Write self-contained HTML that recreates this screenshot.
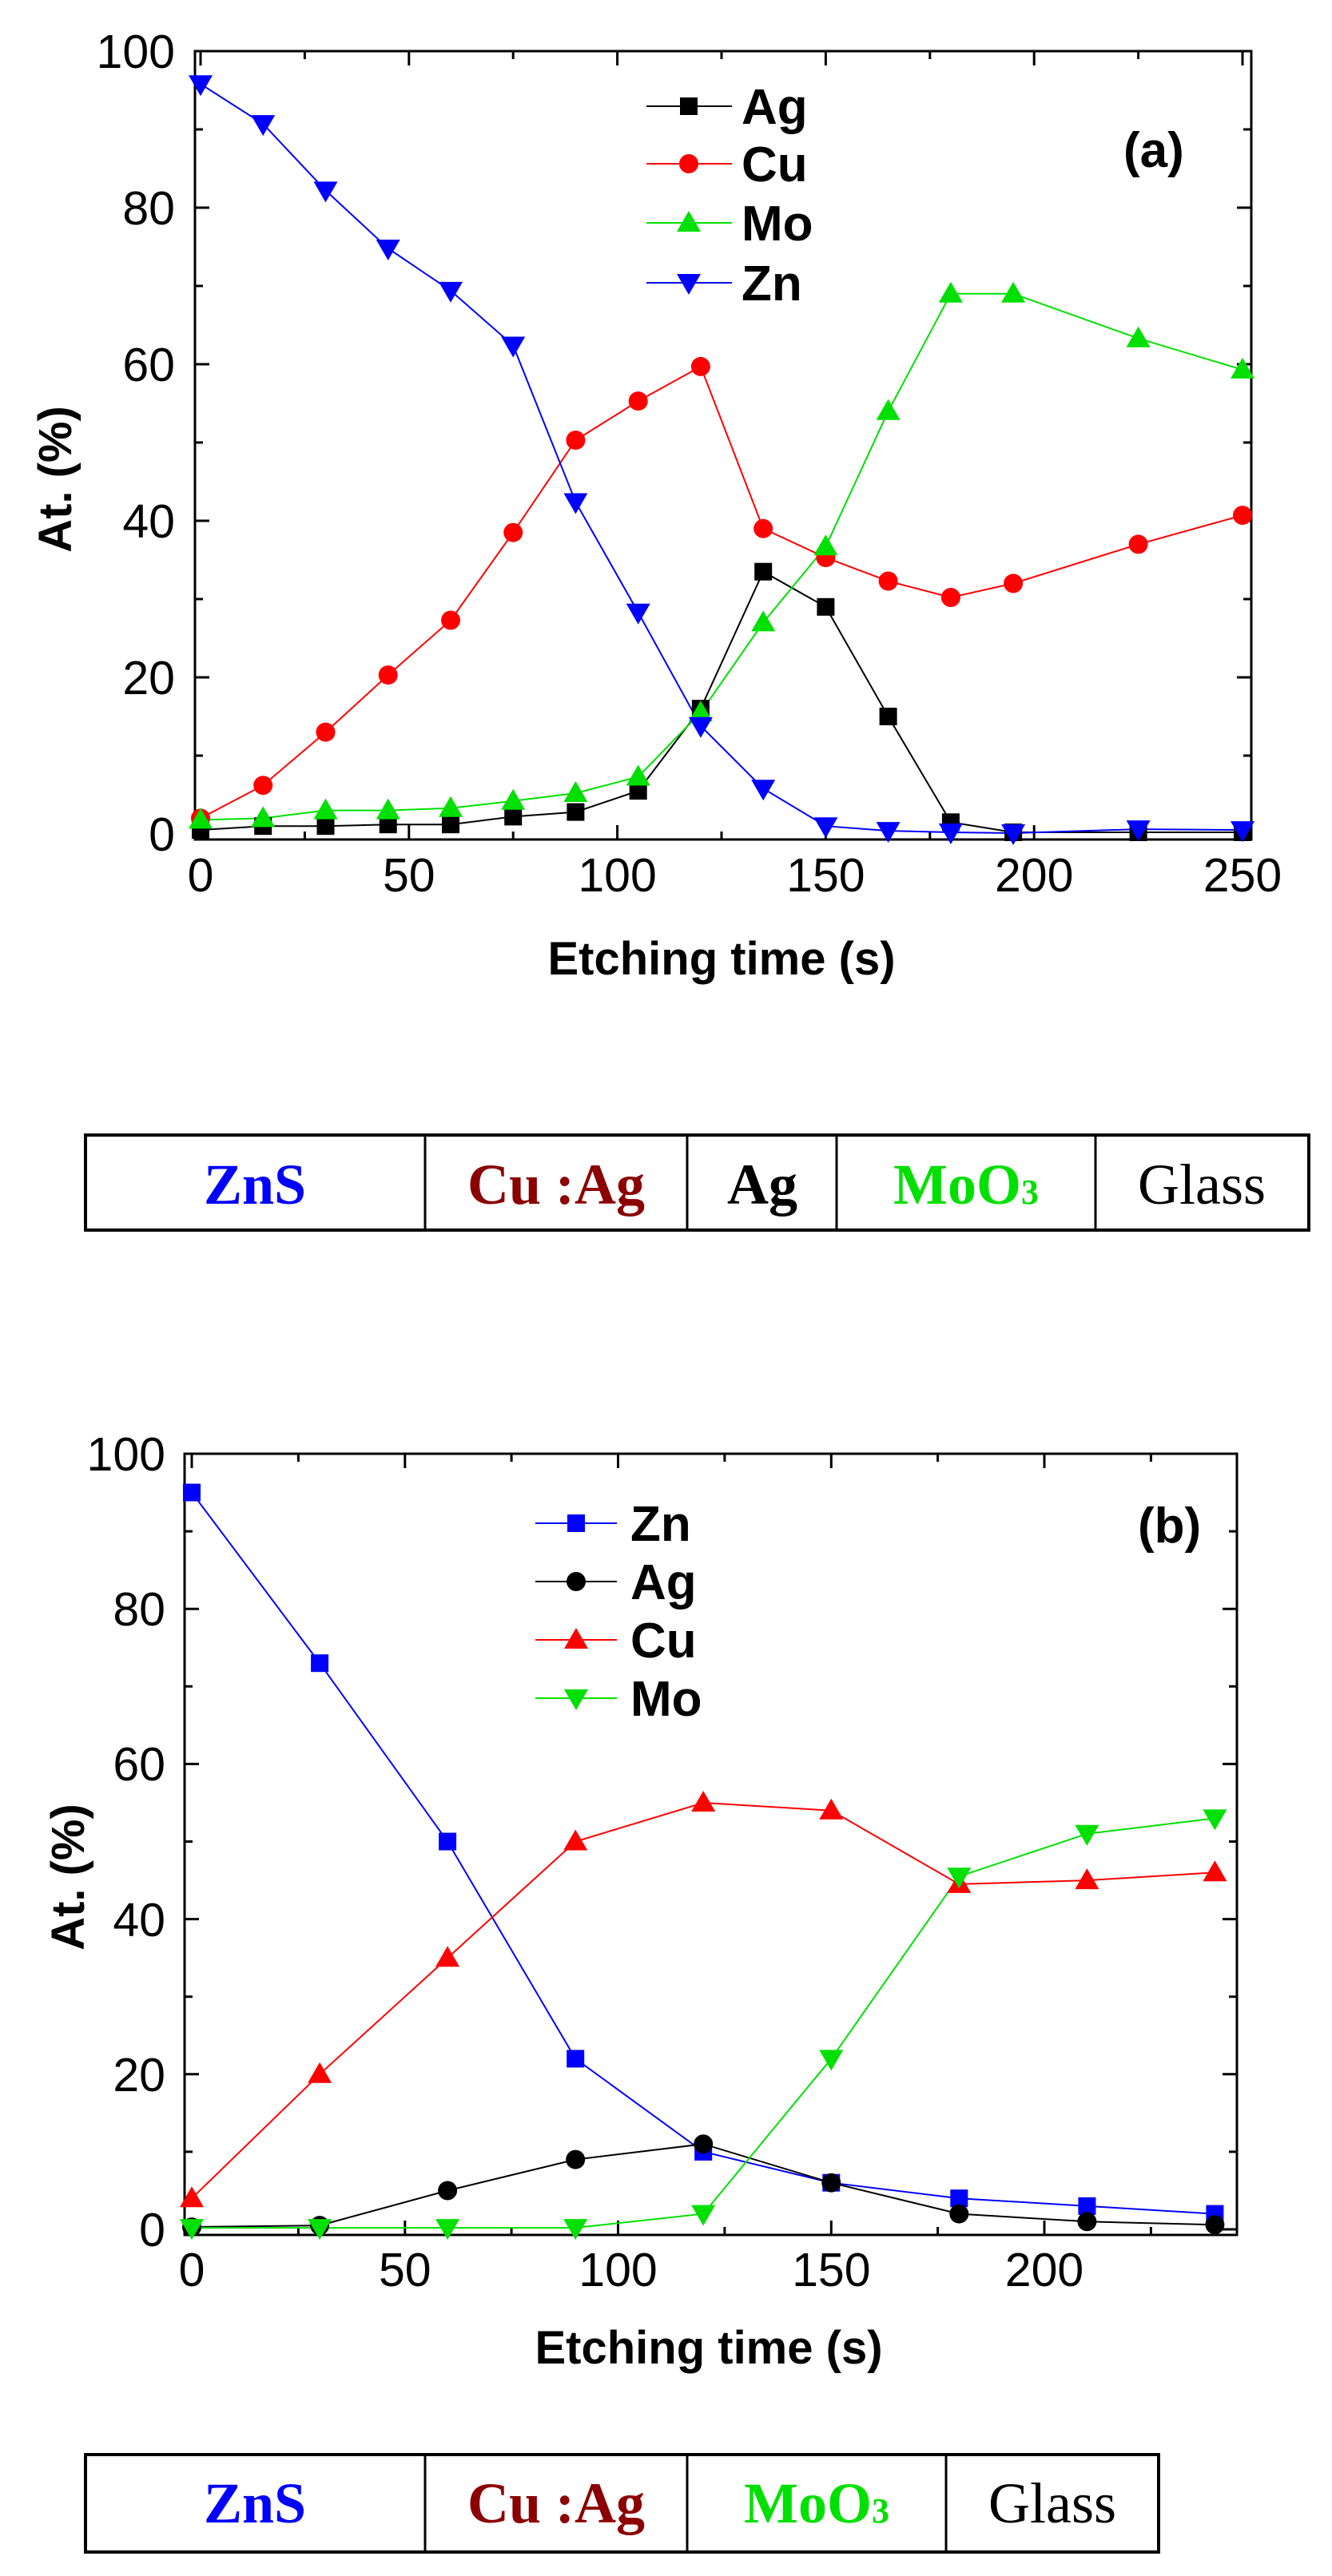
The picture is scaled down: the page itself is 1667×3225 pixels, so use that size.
<!DOCTYPE html>
<html><head><meta charset="utf-8"><style>
html,body{margin:0;padding:0;background:#fff}
svg{display:block}
.t{font-family:"Liberation Sans",Arial,sans-serif;font-size:59px;fill:#000}
.b{font-family:"Liberation Sans",Arial,sans-serif;font-weight:bold;font-size:58px;fill:#000}
.l{font-family:"Liberation Sans",Arial,sans-serif;font-weight:bold;font-size:62px;fill:#000}
.s{font-family:"Liberation Serif","Times New Roman",serif;font-size:72px}
</style></head><body>
<svg width="1667" height="3225" viewBox="0 0 1667 3225" xmlns="http://www.w3.org/2000/svg">
<defs>
<rect id="sq" x="-11" y="-11" width="22" height="22"/>
<circle id="ci" r="12"/>
<polygon id="up" points="0,-15 15,11 -15,11"/>
<polygon id="dn" points="0,15 15,-11 -15,-11"/>
</defs>

<!-- ============ CHART A ============ -->
<rect x="244" y="64" width="1322" height="987" fill="none" stroke="#000" stroke-width="3"/>
<g stroke="#000" stroke-width="3">
<path d="M251 1051v-18M511.8 1051v-18M772.6 1051v-18M1033.4 1051v-18M1294.2 1051v-18M1555 1051v-18
M251 64v18M511.8 64v18M772.6 64v18M1033.4 64v18M1294.2 64v18M1555 64v18
M381.4 1051v-10M642.2 1051v-10M903 1051v-10M1163.8 1051v-10M1424.6 1051v-10
M381.4 64v10M642.2 64v10M903 64v10M1163.8 64v10M1424.6 64v10
M244 1044h18M244 848h18M244 652h18M244 456h18M244 260h18
M1566 1044h-18M1566 848h-18M1566 652h-18M1566 456h-18M1566 260h-18
M244 946h10M244 750h10M244 554h10M244 358h10M244 162h10
M1566 946h-10M1566 750h-10M1566 554h-10M1566 358h-10M1566 162h-10"/>
</g>
<g class="t" text-anchor="end">
<text x="219" y="1065">0</text><text x="219" y="869">20</text><text x="219" y="673">40</text><text x="219" y="477">60</text><text x="219" y="281">80</text><text x="219" y="85">100</text>
</g>
<g class="t" text-anchor="middle">
<text x="251" y="1116">0</text><text x="511.8" y="1116">50</text><text x="772.6" y="1116">100</text><text x="1033.4" y="1116">150</text><text x="1294.2" y="1116">200</text><text x="1555" y="1116">250</text>
</g>
<text class="b" x="903" y="1220" text-anchor="middle">Etching time (s)</text>
<text class="b" transform="translate(89,600) rotate(-90)" text-anchor="middle">At. (%)</text>

<g fill="none" stroke-width="2">
<polyline stroke="#000" points="251,1039.1 329.2,1034.2 407.5,1034.2 485.7,1032.2 564,1032.2 642.2,1022.4 720.4,1016.6 798.7,990.1 876.9,887.2 955.2,715.7 1033.4,759.8 1111.6,897 1189.9,1029.3 1268.1,1042 1424.6,1042 1555,1042"/>
<polyline stroke="#ff0000" points="251,1024.4 329.2,983.2 407.5,916.6 485.7,845.1 564,776.5 642.2,666.7 720.4,551.1 798.7,502.1 876.9,458.9 955.2,661.8 1033.4,698.1 1111.6,727.5 1189.9,748 1268.1,730.4 1424.6,681.4 1555,645.1"/>
<polyline stroke="#00e000" points="251,1026.4 329.2,1024.4 407.5,1014.6 485.7,1014.6 564,1011.7 642.2,1002.8 720.4,993 798.7,972.5 876.9,892.1 955.2,779.4 1033.4,684.3 1111.6,514.8 1189.9,367.8 1268.1,367.8 1424.6,423.7 1555,462.9"/>
<polyline stroke="#0000ff" points="251,105.2 329.2,155.1 407.5,238.4 485.7,311 564,363.9 642.2,432.5 720.4,628.5 798.7,766.7 876.9,908.8 955.2,987.2 1033.4,1034.2 1111.6,1040.1 1189.9,1042 1268.1,1043 1424.6,1038.1 1555,1039.1"/>
</g>
<g fill="#000">
<use href="#sq" x="251" y="1039.1"/><use href="#sq" x="329.2" y="1034.2"/><use href="#sq" x="407.5" y="1034.2"/><use href="#sq" x="485.7" y="1032.2"/><use href="#sq" x="564" y="1032.2"/><use href="#sq" x="642.2" y="1022.4"/><use href="#sq" x="720.4" y="1016.6"/><use href="#sq" x="798.7" y="990.1"/><use href="#sq" x="876.9" y="887.2"/><use href="#sq" x="955.2" y="715.7"/><use href="#sq" x="1033.4" y="759.8"/><use href="#sq" x="1111.6" y="897"/><use href="#sq" x="1189.9" y="1029.3"/><use href="#sq" x="1268.1" y="1042"/><use href="#sq" x="1424.6" y="1042"/><use href="#sq" x="1555" y="1042"/>
</g>
<g fill="#ff0000">
<use href="#ci" x="251" y="1024.4"/><use href="#ci" x="329.2" y="983.2"/><use href="#ci" x="407.5" y="916.6"/><use href="#ci" x="485.7" y="845.1"/><use href="#ci" x="564" y="776.5"/><use href="#ci" x="642.2" y="666.7"/><use href="#ci" x="720.4" y="551.1"/><use href="#ci" x="798.7" y="502.1"/><use href="#ci" x="876.9" y="458.9"/><use href="#ci" x="955.2" y="661.8"/><use href="#ci" x="1033.4" y="698.1"/><use href="#ci" x="1111.6" y="727.5"/><use href="#ci" x="1189.9" y="748"/><use href="#ci" x="1268.1" y="730.4"/><use href="#ci" x="1424.6" y="681.4"/><use href="#ci" x="1555" y="645.1"/>
</g>
<g fill="#00e000">
<use href="#up" x="251" y="1026.4"/><use href="#up" x="329.2" y="1024.4"/><use href="#up" x="407.5" y="1014.6"/><use href="#up" x="485.7" y="1014.6"/><use href="#up" x="564" y="1011.7"/><use href="#up" x="642.2" y="1002.8"/><use href="#up" x="720.4" y="993"/><use href="#up" x="798.7" y="972.5"/><use href="#up" x="876.9" y="892.1"/><use href="#up" x="955.2" y="779.4"/><use href="#up" x="1033.4" y="684.3"/><use href="#up" x="1111.6" y="514.8"/><use href="#up" x="1189.9" y="367.8"/><use href="#up" x="1268.1" y="367.8"/><use href="#up" x="1424.6" y="423.7"/><use href="#up" x="1555" y="462.9"/>
</g>
<g fill="#0000ff">
<use href="#dn" x="251" y="105.2"/><use href="#dn" x="329.2" y="155.1"/><use href="#dn" x="407.5" y="238.4"/><use href="#dn" x="485.7" y="311"/><use href="#dn" x="564" y="363.9"/><use href="#dn" x="642.2" y="432.5"/><use href="#dn" x="720.4" y="628.5"/><use href="#dn" x="798.7" y="766.7"/><use href="#dn" x="876.9" y="908.8"/><use href="#dn" x="955.2" y="987.2"/><use href="#dn" x="1033.4" y="1034.2"/><use href="#dn" x="1111.6" y="1040.1"/><use href="#dn" x="1189.9" y="1042"/><use href="#dn" x="1268.1" y="1043"/><use href="#dn" x="1424.6" y="1038.1"/><use href="#dn" x="1555" y="1039.1"/>
</g>
<g stroke-width="2">
<line x1="809" y1="133" x2="916" y2="133" stroke="#000"/>
<line x1="809" y1="205" x2="916" y2="205" stroke="#ff0000"/>
<line x1="809" y1="279" x2="916" y2="279" stroke="#00e000"/>
<line x1="809" y1="354" x2="916" y2="354" stroke="#0000ff"/>
</g>
<use href="#sq" x="862" y="133" fill="#000"/>
<use href="#ci" x="862" y="205" fill="#ff0000"/>
<use href="#up" x="862" y="279" fill="#00e000"/>
<use href="#dn" x="862" y="354" fill="#0000ff"/>
<g class="l">
<text x="928" y="155">Ag</text><text x="928" y="227">Cu</text><text x="928" y="301">Mo</text><text x="928" y="376">Zn</text>
<text x="1406" y="209">(a)</text>
</g>

<g fill="none" stroke="#000">
<rect x="107" y="1421" width="1531" height="119" stroke-width="4"/>
<path d="M532 1421v119M860 1421v119M1047 1421v119M1371 1421v119" stroke-width="3"/>
</g>
<g class="s" text-anchor="middle">
<text x="319" y="1507" fill="#0000ff" font-weight="bold">ZnS</text>
<text x="696" y="1507" fill="#8b0000" font-weight="bold">Cu :Ag</text>
<text x="954" y="1507" fill="#000" font-weight="bold">Ag</text>
<text x="1209" y="1507" fill="#00e000" font-weight="bold">MoO<tspan font-size="44">3</tspan></text>
<text x="1504" y="1507" fill="#000">Glass</text>
</g>

<!-- ============ CHART B ============ -->
<rect x="231" y="1820" width="1317" height="978" fill="none" stroke="#000" stroke-width="3"/>
<g stroke="#000" stroke-width="3">
<path d="M240 2798v-18M506.8 2798v-18M773.5 2798v-18M1040.3 2798v-18M1307 2798v-18
M240 1820v18M506.8 1820v18M773.5 1820v18M1040.3 1820v18M1307 1820v18
M373.4 2798v-10M640.1 2798v-10M906.9 2798v-10M1173.6 2798v-10M1440.4 2798v-10
M373.4 1820v10M640.1 1820v10M906.9 1820v10M1173.6 1820v10M1440.4 1820v10
M231 2791h18M231 2596.8h18M231 2402.6h18M231 2208.4h18M231 2014.2h18
M1548 2791h-18M1548 2596.8h-18M1548 2402.6h-18M1548 2208.4h-18M1548 2014.2h-18
M231 2693.9h10M231 2499.7h10M231 2305.5h10M231 2111.3h10M231 1917.1h10
M1548 2693.9h-10M1548 2499.7h-10M1548 2305.5h-10M1548 2111.3h-10M1548 1917.1h-10"/>
</g>
<g class="t" text-anchor="end">
<text x="207" y="2812">0</text><text x="207" y="2618">20</text><text x="207" y="2424">40</text><text x="207" y="2229">60</text><text x="207" y="2035">80</text><text x="207" y="1841">100</text>
</g>
<g class="t" text-anchor="middle">
<text x="240" y="2862">0</text><text x="506.8" y="2862">50</text><text x="773.5" y="2862">100</text><text x="1040.3" y="2862">150</text><text x="1307" y="2862">200</text>
</g>
<text class="b" x="887" y="2959" text-anchor="middle">Etching time (s)</text>
<text class="b" transform="translate(105,2350) rotate(-90)" text-anchor="middle">At. (%)</text>

<g fill="none" stroke-width="2">
<polyline stroke="#0000ff" points="240,1868.5 400.1,2082.2 560.1,2305.5 720.2,2577.4 880.2,2693.9 1040.3,2732.7 1200.3,2752.2 1360.4,2761.9 1520.4,2771.6"/>
<polyline stroke="#000" points="240,2788.1 400.1,2786.1 560.1,2742.5 720.2,2703.6 880.2,2684.2 1040.3,2732.7 1200.3,2771.6 1360.4,2781.3 1520.4,2785.2"/>
<polyline stroke="#ff0000" points="240,2752.2 400.1,2596.8 560.1,2451.2 720.2,2305.5 880.2,2257 1040.3,2266.7 1200.3,2358.9 1360.4,2354.1 1520.4,2344.3"/>
<polyline stroke="#00e000" points="240,2789.1 400.1,2789.1 560.1,2789.1 720.2,2789.1 880.2,2771.6 1040.3,2577.4 1200.3,2349.2 1360.4,2295.8 1520.4,2276.4"/>
</g>
<g fill="#0000ff">
<use href="#sq" x="240" y="1868.5"/><use href="#sq" x="400.1" y="2082.2"/><use href="#sq" x="560.1" y="2305.5"/><use href="#sq" x="720.2" y="2577.4"/><use href="#sq" x="880.2" y="2693.9"/><use href="#sq" x="1040.3" y="2732.7"/><use href="#sq" x="1200.3" y="2752.2"/><use href="#sq" x="1360.4" y="2761.9"/><use href="#sq" x="1520.4" y="2771.6"/>
</g>
<g fill="#000">
<use href="#ci" x="240" y="2788.1"/><use href="#ci" x="400.1" y="2786.1"/><use href="#ci" x="560.1" y="2742.5"/><use href="#ci" x="720.2" y="2703.6"/><use href="#ci" x="880.2" y="2684.2"/><use href="#ci" x="1040.3" y="2732.7"/><use href="#ci" x="1200.3" y="2771.6"/><use href="#ci" x="1360.4" y="2781.3"/><use href="#ci" x="1520.4" y="2785.2"/>
</g>
<g fill="#ff0000">
<use href="#up" x="240" y="2752.2"/><use href="#up" x="400.1" y="2596.8"/><use href="#up" x="560.1" y="2451.2"/><use href="#up" x="720.2" y="2305.5"/><use href="#up" x="880.2" y="2257"/><use href="#up" x="1040.3" y="2266.7"/><use href="#up" x="1200.3" y="2358.9"/><use href="#up" x="1360.4" y="2354.1"/><use href="#up" x="1520.4" y="2344.3"/>
</g>
<g fill="#00e000">
<use href="#dn" x="240" y="2789.1"/><use href="#dn" x="400.1" y="2789.1"/><use href="#dn" x="560.1" y="2789.1"/><use href="#dn" x="720.2" y="2789.1"/><use href="#dn" x="880.2" y="2771.6"/><use href="#dn" x="1040.3" y="2577.4"/><use href="#dn" x="1200.3" y="2349.2"/><use href="#dn" x="1360.4" y="2295.8"/><use href="#dn" x="1520.4" y="2276.4"/>
</g>
<g stroke-width="2">
<line x1="670" y1="1907" x2="772" y2="1907" stroke="#0000ff"/>
<line x1="670" y1="1980" x2="772" y2="1980" stroke="#000"/>
<line x1="670" y1="2053" x2="772" y2="2053" stroke="#ff0000"/>
<line x1="670" y1="2126" x2="772" y2="2126" stroke="#00e000"/>
</g>
<use href="#sq" x="721" y="1907" fill="#0000ff"/>
<use href="#ci" x="721" y="1980" fill="#000"/>
<use href="#up" x="721" y="2053" fill="#ff0000"/>
<use href="#dn" x="721" y="2126" fill="#00e000"/>
<g class="l">
<text x="789" y="1929">Zn</text><text x="789" y="2002">Ag</text><text x="789" y="2075">Cu</text><text x="789" y="2148">Mo</text>
<text x="1424" y="1931">(b)</text>
</g>

<g fill="none" stroke="#000">
<rect x="107" y="3073" width="1343" height="122" stroke-width="4"/>
<path d="M532 3073v122M860 3073v122M1184 3073v122" stroke-width="3"/>
</g>
<g class="s" text-anchor="middle">
<text x="319" y="3158" fill="#0000ff" font-weight="bold">ZnS</text>
<text x="696" y="3158" fill="#8b0000" font-weight="bold">Cu :Ag</text>
<text x="1022" y="3158" fill="#00e000" font-weight="bold">MoO<tspan font-size="44">3</tspan></text>
<text x="1317" y="3158" fill="#000">Glass</text>
</g>
</svg>
</body></html>
